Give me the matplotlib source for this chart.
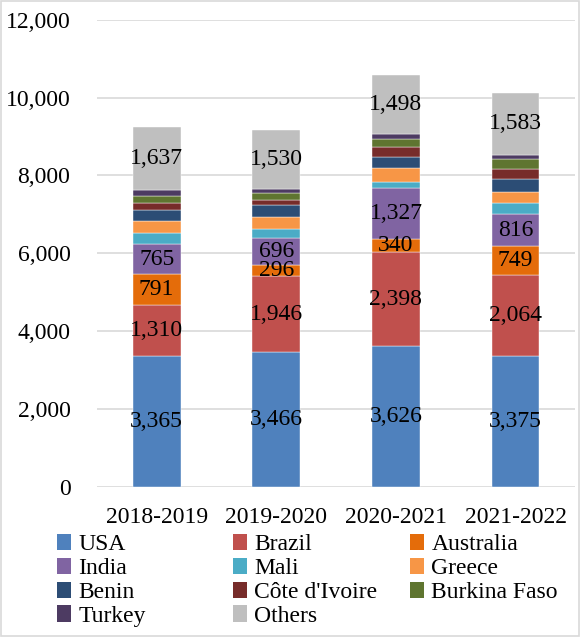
import matplotlib
matplotlib.use("Agg")
import matplotlib.pyplot as plt
from matplotlib.patches import Rectangle, Patch
from matplotlib.ticker import FuncFormatter

plt.rcParams['font.family'] = ['Liberation Serif', 'DejaVu Serif']

seasons = ["2018-2019", "2019-2020", "2020-2021", "2021-2022"]
countries = ["USA", "Brazil", "Australia", "India", "Mali", "Greece", "Benin",
             "Côte d'Ivoire", "Burkina Faso", "Turkey", "Others"]
usa = [3365, 3466, 3626, 3375]
brazil = [1310, 1946, 2398, 2064]
australia = [791, 296, 340, 749]
india = [765, 696, 1327, 816]
mali = [300, 210, 150, 290]
greece = [300, 320, 345, 290]
benin = [280, 300, 295, 325]
cote = [170, 130, 245, 250]
burkina = [190, 195, 215, 265]
turkey = [150, 85, 130, 115]
others = [1637, 1530, 1498, 1583]
series = [usa, brazil, australia, india, mali, greece, benin, cote, burkina, turkey, others]
labeled = {"USA", "Brazil", "Australia", "India", "Others"}
colors = ["#4F81BD", "#C0504D", "#E46C0A", "#8064A2", "#4BACC6", "#F79646",
          "#2C4D75", "#772C2A", "#5F7530", "#4D3B62", "#BFBFBF"]

FS = 17

fig = plt.figure(figsize=(5.8, 6.37), dpi=100)
ax = fig.add_axes([0.167, 0.2355, 0.825, 0.7335])

x = list(range(len(seasons)))
bottoms = [0] * len(seasons)
for name, vals, c in zip(countries, series, colors):
    ax.bar(x, vals, width=0.4, bottom=bottoms, color=c, edgecolor="white",
           linewidth=0.3, zorder=3)
    if name in labeled:
        for xi, b, v in zip(x, bottoms, vals):
            ax.text(xi, b + v / 2, f"{v:,}", ha="center", va="center",
                    fontsize=FS, color="black", zorder=4)
    bottoms = [b + v for b, v in zip(bottoms, vals)]

ax.set_xlim(-0.5, 3.5)
ax.set_ylim(0, 12000)
ax.set_yticks(range(0, 12001, 2000))
ax.yaxis.set_major_formatter(FuncFormatter(lambda v, p: f"{int(v):,}"))
ax.set_xticks(x)
ax.set_xticklabels(seasons)
ax.tick_params(axis="both", length=0, labelsize=FS)
ax.tick_params(axis="y", pad=19)
ax.tick_params(axis="x", pad=14.5)
ax.grid(axis="y", color="#D9D9D9", linewidth=1.2, zorder=0)
for s in ax.spines.values():
    s.set_visible(False)

handles = [Patch(facecolor=c, label=n) for n, c in zip(countries, colors)]
columns = [[0, 3, 6, 9], [1, 4, 7, 10], [2, 5, 8]]
col_x = [0.098, 0.402, 0.707]
for cx, idxs in zip(col_x, columns):
    fig.legend([handles[i] for i in idxs], [countries[i] for i in idxs],
               ncol=1, loc="upper left", bbox_to_anchor=(cx, 0.162),
               frameon=False, fontsize=FS, handlelength=0.6, handleheight=0.7,
               handletextpad=0.3, labelspacing=0.1,
               borderpad=0, borderaxespad=0)

fig.add_artist(Rectangle((0.001, 0.001), 0.997, 0.997, transform=fig.transFigure,
                         fill=False, edgecolor="#D9D9D9", linewidth=1.2))

fig.savefig("out.png", dpi=100)
